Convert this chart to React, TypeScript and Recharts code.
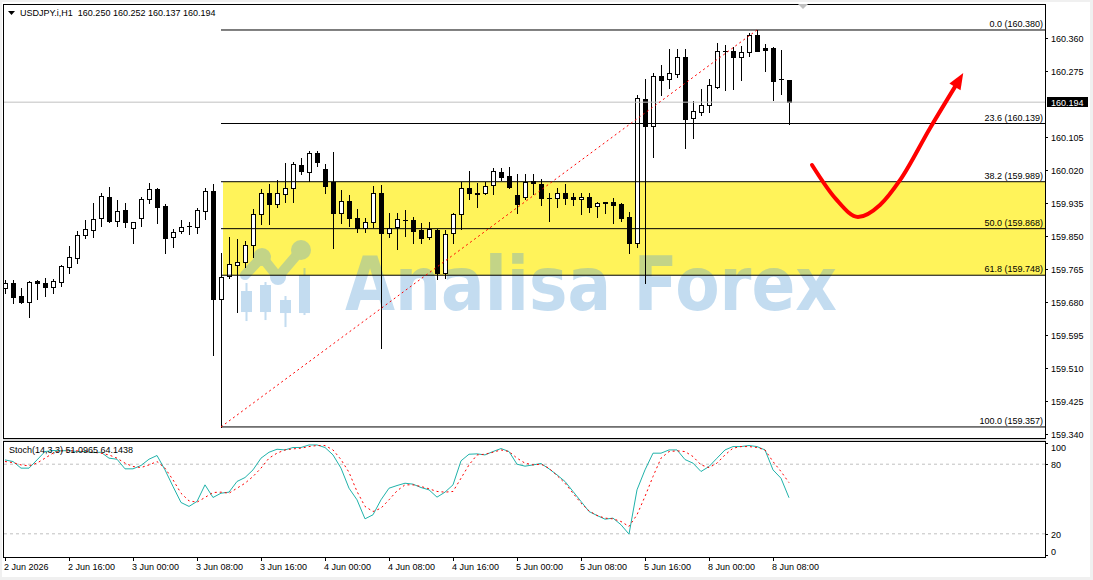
import React from "react";
import {
  ComposedChart,
  LineChart,
  Bar,
  Line,
  XAxis,
  YAxis,
  ReferenceLine,
  ReferenceArea,
} from "recharts";

const FONT = "'Liberation Sans', Arial, sans-serif";

// USDJPY.i H1, bar 0 = 2 Jun 2026 08:00
const opens = [
  159.715, 159.728, 159.694, 159.679, 159.733, 159.728, 159.718, 159.731, 159.769, 159.792,
  159.852, 159.864, 159.895, 159.95, 159.888, 159.916, 159.87, 159.895, 159.944, 159.97,
  159.926, 159.846, 159.862, 159.875, 159.872, 159.914, 159.965, 159.687, 159.746, 159.774,
  159.782, 159.826, 159.906, 159.96, 159.932, 159.957, 159.973, 160.032, 160.014, 160.063,
  160.022, 159.988, 159.908, 159.939, 159.895, 159.87, 159.885, 159.96, 159.857, 159.872,
  159.89, 159.89, 159.864, 159.846, 159.864, 159.754, 159.857, 159.906, 159.973, 159.96,
  159.96, 159.981, 160.014, 160.004, 159.955, 159.95, 159.991, 159.983, 159.947, 159.947,
  159.96, 159.95, 159.944, 159.95, 159.926, 159.937, 159.937, 159.932, 159.898, 159.831,
  160.202, 160.133, 160.261, 160.254, 160.267, 160.31, 160.153, 160.169, 160.187, 160.233,
  160.326, 160.326, 160.31, 160.323, 160.367, 160.334, 160.334, 160.254, 160.25,
];
const highs = [
  159.736, 159.736, 159.715, 159.733, 159.736, 159.741, 159.738, 159.774, 159.823, 159.862,
  159.89, 159.934, 159.96, 159.975, 159.942, 159.934, 159.886, 159.95, 159.986, 159.973,
  159.932, 159.867, 159.89, 159.885, 159.921, 159.973, 159.983, 159.805, 159.846, 159.841,
  159.836, 159.919, 159.97, 159.983, 159.993, 160.037, 160.04, 160.05, 160.068, 160.068,
  160.035, 160.066, 159.968, 159.955, 159.919, 159.895, 159.978, 159.981, 159.908, 159.908,
  159.916, 159.898, 159.883, 159.885, 159.866, 159.864, 159.908, 159.988, 160.017, 159.986,
  159.988, 160.024, 160.024, 160.027, 160.009, 160.009, 160.009, 159.996, 159.96, 159.973,
  159.983, 159.96, 159.96, 159.96, 159.937, 159.938, 159.947, 159.933, 159.911, 160.212,
  160.254, 160.269, 160.29, 160.331, 160.331, 160.331, 160.197, 160.228, 160.254, 160.346,
  160.341, 160.336, 160.339, 160.372, 160.38, 160.344, 160.336, 160.328, 160.252,
];
const lows = [
  159.702, 159.676, 159.676, 159.64, 159.687, 159.694, 159.702, 159.72, 159.754, 159.779,
  159.844, 159.846, 159.875, 159.886, 159.875, 159.872, 159.831, 159.875, 159.934, 159.883,
  159.805, 159.821, 159.857, 159.854, 159.857, 159.893, 159.542, 159.357, 159.741, 159.653,
  159.769, 159.795, 159.88, 159.88, 159.924, 159.937, 159.937, 160.009, 159.991, 160.029,
  159.96, 159.818, 159.883, 159.875, 159.859, 159.859, 159.872, 159.56, 159.846, 159.816,
  159.849, 159.831, 159.831, 159.841, 159.738, 159.741, 159.831, 159.867, 159.944, 159.924,
  159.957, 159.957, 159.993, 159.973, 159.908, 159.944, 159.957, 159.929, 159.888, 159.924,
  159.932, 159.929, 159.906, 159.911, 159.898, 159.908, 159.883, 159.888, 159.805, 159.821,
  159.728, 160.053, 160.212, 160.231, 160.259, 160.076, 160.102, 160.161, 160.169, 160.231,
  160.225, 160.228, 160.251, 160.313, 160.325, 160.274, 160.2, 160.215, 160.137,
];
const closes = [
  159.728, 159.692, 159.679, 159.731, 159.728, 159.718, 159.733, 159.772, 159.795, 159.852,
  159.867, 159.893, 159.952, 159.888, 159.914, 159.885, 159.885, 159.944, 159.97, 159.924,
  159.844, 159.859, 159.872, 159.876, 159.916, 159.965, 159.687, 159.743, 159.777, 159.782,
  159.826, 159.906, 159.96, 159.932, 159.96, 159.973, 160.035, 160.017, 160.063, 160.04,
  159.978, 159.908, 159.939, 159.895, 159.87, 159.885, 159.96, 159.857, 159.87, 159.893,
  159.891, 159.862, 159.844, 159.867, 159.754, 159.854, 159.906, 159.973, 159.96, 159.957,
  159.978, 160.017, 160.001, 159.975, 159.932, 159.988, 159.986, 159.947, 159.946, 159.96,
  159.947, 159.944, 159.95, 159.924, 159.934, 159.934, 159.929, 159.895, 159.831, 160.205,
  160.133, 160.261, 160.251, 160.269, 160.31, 160.151, 160.171, 160.187, 160.238, 160.326,
  160.327, 160.31, 160.323, 160.367, 160.326, 160.328, 160.249, 160.253, 160.194,
];

// Stochastic(14,3,3)
const stochMain = [
  83.7, 82.3, 76.6, 76.6, 83.7, 90.9, 91.8, 91.5, 91.8, 90.9,
  90.9, 90.0, 90.3, 85.2, 84.3, 76.0, 76.0, 78.9, 84.3, 87.5,
  75.1, 60.8, 47.0, 43.6, 47.9, 62.2, 51.3, 55.0, 55.9, 65.1,
  68.5, 75.1, 85.2, 90.3, 92.9, 92.3, 94.4, 94.4, 96.6, 96.6,
  94.4, 88.0, 76.6, 59.3, 49.3, 32.9, 36.4, 49.3, 59.3, 61.6,
  63.6, 62.8, 59.9, 57.9, 51.6, 55.9, 62.2, 82.9, 88.6, 88.9,
  88.0, 90.9, 93.5, 90.9, 80.0, 78.3, 79.4, 80.6, 76.0, 70.8,
  65.1, 56.5, 47.9, 39.2, 35.8, 32.6, 33.5, 27.8, 19.7, 57.9,
  75.1, 89.5, 89.5, 92.3, 92.3, 84.0, 80.9, 73.7, 78.0, 85.2,
  92.3, 95.2, 95.2, 96.1, 95.2, 92.3, 75.1, 67.9, 51.1,
];
const stochSignal = [
  82.3, 81.4, 79.4, 78.6, 80.9, 85.2, 89.5, 91.5, 91.5, 91.5,
  90.9, 90.3, 89.5, 88.0, 85.2, 80.9, 78.0, 77.1, 79.4, 82.3,
  76.6, 66.5, 55.0, 48.4, 47.3, 51.3, 55.6, 55.9, 55.0, 59.3,
  63.6, 69.4, 76.6, 85.2, 89.5, 92.3, 93.2, 93.8, 95.2, 96.1,
  96.1, 92.3, 84.0, 73.0, 56.5, 43.6, 39.2, 42.1, 49.3, 57.0,
  62.2, 62.2, 60.8, 58.8, 56.5, 55.9, 56.5, 67.9, 79.4, 88.0,
  88.6, 90.3, 92.3, 90.9, 85.2, 80.9, 79.4, 80.0, 76.6, 70.2,
  63.6, 55.0, 46.4, 39.8, 35.8, 33.5, 32.9, 30.6, 26.3, 36.4,
  52.2, 69.4, 85.2, 90.9, 91.5, 90.9, 86.6, 79.4, 77.1, 80.9,
  88.0, 93.8, 95.2, 95.2, 94.4, 92.3, 82.3, 73.7, 64.1,
];

const timeTicks = [0, 8, 16, 24, 32, 40, 48, 56, 64, 72, 80, 88, 96];
const timeLabels = [
  "2 Jun 2026", "2 Jun 16:00", "3 Jun 00:00", "3 Jun 08:00", "3 Jun 16:00",
  "4 Jun 00:00", "4 Jun 08:00", "4 Jun 16:00", "5 Jun 00:00", "5 Jun 08:00",
  "5 Jun 16:00", "8 Jun 00:00", "8 Jun 08:00",
];

const currentPrice = 160.194;
const priceTicks = [
  160.36, 160.275, 160.194, 160.105, 160.02, 159.935, 159.85, 159.765,
  159.68, 159.595, 159.51, 159.425, 159.34,
];
const stochTicks = [100, 80, 20, 0];

// Fibonacci retracement drawn from bar 27 (low) to bar 94 (high)
const fibRatios = ["0.0", "23.6", "38.2", "50.0", "61.8", "100.0"];
const fibPrices = [160.38, 160.139, 159.989, 159.868, 159.748, 159.357];
const fibFrom = 27;
const fibTo = 94;

// hand-drawn red arrow (bar index / price)
const arrowIdx = [100.875, 103.875, 106.625, 109.375, 111.875, 115.625, 118.875];
const arrowPrice = [160.032, 159.944, 159.898, 159.929, 159.993, 160.127, 160.238];

const X_DOMAIN: [number, number] = [-0.125, 130];
const Y_DOMAIN: [number, number] = [159.3285, 160.447];
const STOCH_H = 116; // stoch plot height in px

const candles = opens.map((o, i) => ({ i, o, h: highs[i], l: lows[i], c: closes[i] }));
const stochData = stochMain.map((m, i) => ({ i, main: m, signal: stochSignal[i] }));
const arrowData = arrowIdx.map((i, k) => ({ i, p: arrowPrice[k] }));

function Candle(props: any) {
  const { x, y, width, height, payload } = props;
  if (!payload || x == null || y == null) return <g />;
  const { o, h, l, c } = payload;
  const top = Math.min(y, y + height);
  const k = Math.abs(height) / (h - l);
  const py = (v: number) => Math.round(top + (h - v) * k);
  const cx = Math.round(x + width / 2);
  const bull = c >= o;
  const yt = py(Math.max(o, c));
  const yb = py(Math.min(o, c));
  const wick = (
    <line x1={cx + 0.5} x2={cx + 0.5} y1={py(h)} y2={py(l) + 1} stroke="#000" strokeWidth={1} />
  );
  if (yb - yt < 1) {
    return (
      <g>
        {wick}
        <line x1={cx - 2} x2={cx + 3} y1={yt + 0.5} y2={yt + 0.5} stroke="#000" strokeWidth={1} />
      </g>
    );
  }
  return (
    <g>
      {wick}
      {bull ? (
        <rect x={cx - 1.5} y={yt + 0.5} width={4} height={yb - yt} fill="#fff" stroke="#000" strokeWidth={1} />
      ) : (
        <rect x={cx - 2} y={yt} width={5} height={yb - yt + 1} fill="#000" />
      )}
    </g>
  );
}

function PriceTick(props: any) {
  const { x, y, payload } = props;
  const v = payload.value as number;
  const yy = Math.round(y);
  if (Math.abs(v - currentPrice) < 1e-6) {
    return (
      <g>
        <rect x={x + 2} y={yy - 5} width={41} height={10} fill="#000" />
        <text x={x + 6} y={yy + 3.5} fill="#fff" fontSize={9} fontFamily={FONT}>
          {v.toFixed(3)}
        </text>
      </g>
    );
  }
  return (
    <g>
      <line x1={x} x2={x + 3} y1={yy + 0.5} y2={yy + 0.5} stroke="#000" />
      <text x={x + 6} y={yy + 3.5} fill="#000" fontSize={9} fontFamily={FONT}>
        {v.toFixed(3)}
      </text>
    </g>
  );
}

function StochTick(props: any) {
  const { x, y, payload } = props;
  // keep the 100 and 0 labels inside the sub-window, like MT4 does
  const ty = Math.min(Math.max(Math.round(y), 2), STOCH_H - 2);
  const ly = Math.min(Math.max(Math.round(y), 6), STOCH_H - 6);
  return (
    <g>
      <line x1={x} x2={x + 3} y1={ty + 0.5} y2={ty + 0.5} stroke="#000" />
      <text x={x + 6} y={ly + 3.5} fill="#000" fontSize={9} fontFamily={FONT}>
        {payload.value}
      </text>
    </g>
  );
}

function TimeTick(props: any) {
  const { x, y, payload } = props;
  const idx = timeTicks.indexOf(payload.value);
  const xx = Math.round(x);
  return (
    <g>
      <line x1={xx + 0.5} x2={xx + 0.5} y1={y} y2={y + 4} stroke="#000" />
      <text x={xx - 1} y={y + 12.5} fill="#000" fontSize={9} fontFamily={FONT}>
        {timeLabels[idx]}
      </text>
    </g>
  );
}

function fibLabel(text: string) {
  return (p: any) => {
    const vb = p.viewBox || {};
    const right = (vb.x ?? 0) + (vb.width ?? 0);
    return (
      <text x={right - 2} y={(vb.y ?? 0) - 3} textAnchor="end" fill="#000" fontSize={9} fontFamily={FONT}>
        {text}
      </text>
    );
  };
}

function Watermark(p: any) {
  const x0 = p.x;
  const y0 = p.y;
  const col = "rgb(90,160,216)";
  const cs = [
    [8, 40, 78, 48, 69],
    [27, 39, 77, 42, 69],
    [47, 53, 84, 57, 70],
    [66, 25, 72, 32, 70],
  ];
  return (
    <g opacity={0.36}>
      {cs.map(([cx, w1, w2, b1, b2], k) => (
        <g key={k}>
          <rect x={x0 + cx - 0.5} y={y0 + w1} width={2} height={w2 - w1} fill={col} />
          <rect x={x0 + cx - 5} y={y0 + b1} width={11} height={b2 - b1} fill={col} />
        </g>
      ))}
      <polyline
        points={`${x0 + 7},${y0 + 32} ${x0 + 24},${y0 + 14} ${x0 + 40},${y0 + 34} ${x0 + 63},${y0 + 7}`}
        fill="none"
        stroke={col}
        strokeWidth={10}
        strokeLinejoin="round"
        strokeLinecap="round"
      />
      <circle cx={x0 + 24} cy={y0 + 14} r={9} fill={col} />
      <circle cx={x0 + 40} cy={y0 + 34} r={8} fill={col} />
      <circle cx={x0 + 63} cy={y0 + 7} r={10} fill={col} />
      <text
        x={x0 + 107}
        y={y0 + 67}
        fill={col}
        fontSize={74}
        fontWeight="bold"
        fontFamily="'DejaVu Sans', sans-serif"
        textLength={492}
        lengthAdjust="spacingAndGlyphs"
      >
        Analisa Forex
      </text>
    </g>
  );
}

function ArrowHead(p: any) {
  const { cx, cy, index } = p;
  if (index !== arrowData.length - 1 || cx == null) return <g key={`ah${index}`} />;
  return (
    <g key={`ah${index}`} transform={`translate(${cx},${cy}) rotate(-58.8)`}>
      <polygon points="14,0 -2,-6.5 -2,6.5" fill="#ff0000" />
    </g>
  );
}

export default function App() {
  return (
    <div
      style={{
        position: "absolute",
        left: 0,
        top: 0,
        width: 1093,
        height: 580,
        background: "#f0f0f0",
        overflow: "hidden",
        fontFamily: FONT,
      }}
    >
      <div style={{ position: "absolute", left: 2, top: 2, width: 1088, height: 575, background: "#fff" }} />

      <div style={{ position: "absolute", left: 0, top: 0 }}>
        <ComposedChart width={1093} height={440} data={candles} margin={{ top: 4, right: 2, bottom: 2, left: 4 }}>
          <XAxis dataKey="i" type="number" domain={X_DOMAIN} allowDataOverflow hide />
          <YAxis
            orientation="right"
            type="number"
            domain={Y_DOMAIN}
            allowDataOverflow
            width={46}
            ticks={priceTicks}
            interval={0}
            tickLine={false}
            axisLine={false}
            tickSize={0}
            tickMargin={0}
            tick={<PriceTick />}
          />
          <ReferenceArea
            x1={27.25}
            x2={130}
            y1={fibPrices[4]}
            y2={fibPrices[2]}
            fill="#fff35a"
            fillOpacity={1}
            stroke="none"
            ifOverflow="hidden"
          />
          <ReferenceArea
            x1={29.125}
            x2={104.375}
            y1={159.6068}
            y2={159.831}
            ifOverflow="hidden"
            shape={(p: any) => <Watermark {...p} />}
          />
          <ReferenceLine y={currentPrice} stroke="#c0c0c0" strokeWidth={1} />
          {fibPrices.map((v, k) => (
            <ReferenceLine
              key={fibRatios[k]}
              segment={[
                { x: fibFrom, y: v },
                { x: X_DOMAIN[1], y: v },
              ]}
              stroke="#000"
              strokeWidth={1}
              label={{ content: fibLabel(`${fibRatios[k]} (${v.toFixed(3)})`) } as any}
            />
          ))}
          <ReferenceLine
            segment={[
              { x: fibFrom, y: fibPrices[5] },
              { x: fibTo, y: fibPrices[0] },
            ]}
            stroke="#ff0000"
            strokeDasharray="2 3"
            strokeWidth={1}
          />
          <Bar
            dataKey={(d: any) => [d.l, d.h]}
            barSize={5}
            shape={<Candle />}
            isAnimationActive={false}
          />
          <Line
            data={arrowData}
            dataKey="p"
            type="monotone"
            stroke="#ff0000"
            strokeWidth={4}
            strokeLinecap="round"
            dot={ArrowHead}
            activeDot={false}
            isAnimationActive={false}
          />
        </ComposedChart>
      </div>

      <div style={{ position: "absolute", left: 0, top: 441 }}>
        <LineChart width={1093} height={139} data={stochData} margin={{ top: 0, right: 2, bottom: 0, left: 4 }}>
          <XAxis
            dataKey="i"
            type="number"
            domain={X_DOMAIN}
            allowDataOverflow
            ticks={timeTicks}
            interval={0}
            height={23}
            tickLine={false}
            axisLine={false}
            tickSize={0}
            tickMargin={0}
            tick={<TimeTick />}
          />
          <YAxis
            orientation="right"
            type="number"
            domain={[0, 100]}
            allowDataOverflow
            width={46}
            ticks={stochTicks}
            interval={0}
            tickLine={false}
            axisLine={false}
            tickSize={0}
            tickMargin={0}
            tick={<StochTick />}
          />
          <ReferenceLine y={80} stroke="#c0c0c0" strokeDasharray="3 3" />
          <ReferenceLine y={20} stroke="#c0c0c0" strokeDasharray="3 3" />
          <Line dataKey="main" type="linear" stroke="#20b2aa" strokeWidth={1} dot={false} activeDot={false} isAnimationActive={false} />
          <Line dataKey="signal" type="linear" stroke="#ff0000" strokeWidth={1} strokeDasharray="2 3" dot={false} activeDot={false} isAnimationActive={false} />
        </LineChart>
      </div>

      {/* frames and header texts */}
      <svg width={1093} height={580} style={{ position: "absolute", left: 0, top: 0, pointerEvents: "none" }}>
        <rect x={3} y={439} width={1043} height={2} fill="#d8d8d8" />
        <rect x={3.5} y={4.5} width={1042} height={434} fill="none" stroke="#000" />
        <rect x={3.5} y={441.5} width={1042} height={116} fill="none" stroke="#000" />
        <polygon points="798,4 808,4 803,9" fill="#c0c0c0" />
        <polygon points="8,11 15,11 11.5,15" fill="#000" />
        <text x={20} y={16} fontSize={9} fontFamily={FONT} fill="#000" style={{ whiteSpace: "pre" }}>
          {"USDJPY.i,H1  160.250 160.252 160.137 160.194"}
        </text>
        <text x={9} y={453} fontSize={9} fontFamily={FONT} fill="#000">
          Stoch(14,3,3) 51.0965 64.1438
        </text>
      </svg>
    </div>
  );
}
